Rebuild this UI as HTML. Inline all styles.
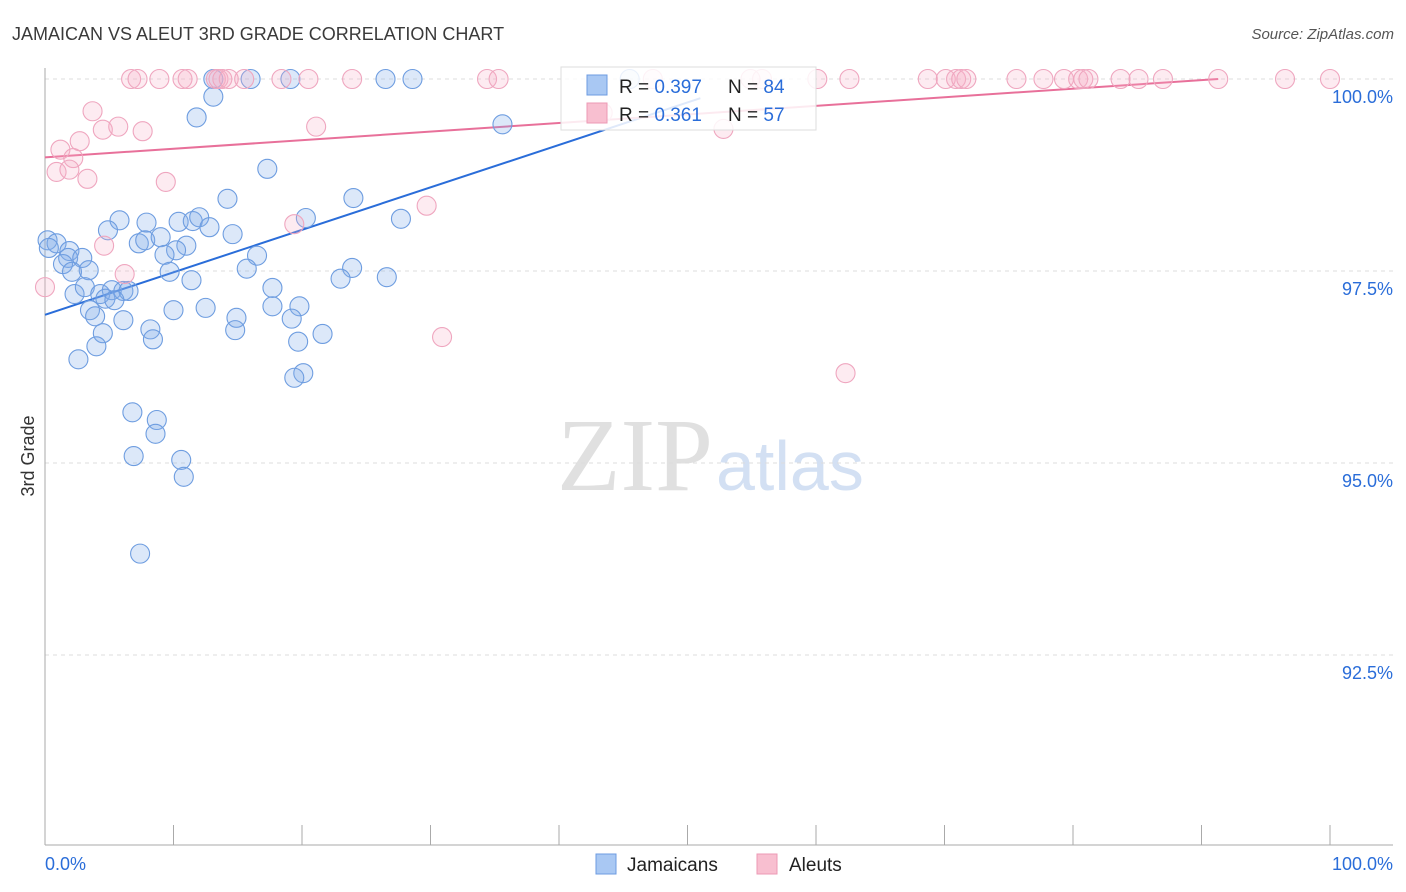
<!DOCTYPE html>
<html><head><meta charset="utf-8"><style>
body{margin:0;background:#fff;font-family:"Liberation Sans",sans-serif;}
svg{display:block}
</style></head><body>
<svg id="chart" width="1406" height="892">
<text x="12" y="40" font-size="18" fill="#3a3a3a">JAMAICAN VS ALEUT 3RD GRADE CORRELATION CHART</text>
<text x="1394" y="39" font-size="15" fill="#555" text-anchor="end" font-style="italic">Source: ZipAtlas.com</text>
<text x="713" y="490" font-size="104" fill="#e0e0e0" text-anchor="end" font-family="Liberation Serif">ZIP</text>
<text x="716" y="490" font-size="70" fill="#d3e0f3">atlas</text>
<g id="grid"></g><g id="axes"></g><g id="lines"></g><g id="pts"></g>
<text transform="translate(34,456) rotate(-90)" font-size="18" fill="#333" text-anchor="middle">3rd Grade</text>
<g>
<rect x="561" y="67" width="255" height="63" fill="#fff" fill-opacity="0.85" stroke="#ddd"/>
<rect x="587" y="75" width="20" height="20" fill="#a9c8f3" stroke="#6d9be0"/>
<rect x="587" y="103" width="20" height="20" fill="#f8bfd0" stroke="#ec9ab5"/>
<text x="619" y="93" font-size="19" fill="#222">R = <tspan fill="#2a6dd9">0.397</tspan>  <tspan x="728">N = </tspan><tspan fill="#2a6dd9">84</tspan></text>
<text x="619" y="121" font-size="19" fill="#222">R = <tspan fill="#2a6dd9">0.361</tspan>  <tspan x="728">N = </tspan><tspan fill="#2a6dd9">57</tspan></text>
</g>
<g>
<rect x="596" y="854" width="20" height="20" fill="#a9c8f3" stroke="#6d9be0"/>
<text x="627" y="871" font-size="19" fill="#222">Jamaicans</text>
<rect x="757" y="854" width="20" height="20" fill="#f8bfd0" stroke="#ec9ab5"/>
<text x="789" y="871" font-size="19" fill="#222">Aleuts</text>
</g>
</svg>
<script>
const blueX=[13.1,16.0,19.1,26.5,28.6,45.5,13.1,11.8,35.6,17.3,14.2,24.0,5.8,7.9,10.4,11.5,12.0,20.3,27.7,4.9,12.8,14.6,0.2,0.9,7.3,7.8,9.0,11.0,10.2,1.9,9.3,16.5,1.8,2.9,1.4,3.4,9.7,15.7,23.9,2.1,23.0,26.6,11.4,2.3,3.1,4.3,5.2,6.1,6.5,4.7,5.4,17.7,3.5,10.0,12.5,17.7,19.8,3.9,6.1,14.9,19.2,8.2,4.5,14.8,21.6,8.4,4.0,19.7,2.6,20.1,19.4,6.8,8.7,8.6,6.9,10.6,10.8,7.4,0.3];
const blueY=[100,100,100,100,100,100,99.77,99.50,99.41,98.83,98.44,98.45,98.16,98.13,98.14,98.15,98.20,98.19,98.18,98.03,98.07,97.98,97.90,97.86,97.86,97.90,97.94,97.83,97.77,97.76,97.71,97.70,97.67,97.67,97.59,97.51,97.49,97.53,97.54,97.49,97.40,97.42,97.38,97.20,97.29,97.20,97.25,97.24,97.24,97.14,97.12,97.28,96.99,96.99,97.02,97.04,97.04,96.91,96.86,96.89,96.88,96.74,96.69,96.73,96.68,96.61,96.52,96.58,96.35,96.17,96.11,95.66,95.56,95.38,95.09,95.04,94.82,93.82,97.80];
const pinkX=[6.7,7.2,8.9,10.7,11.1,13.3,13.5,13.8,14.3,15.5,18.4,20.5,23.9,34.4,35.3,47.3,54.9,55.8,60.1,62.6,68.7,70.1,70.9,71.3,71.7,75.6,77.7,79.3,80.4,80.8,81.2,83.7,85.1,87.0,91.3,96.5,100,3.7,4.5,5.7,7.6,21.1,2.7,1.2,2.2,0.9,1.9,3.3,9.4,29.7,19.4,4.6,6.2,0,30.9,62.3,52.8,43.4];
const pinkY=[100,100,100,100,100,100,100,100,100,100,100,100,100,100,100,100,100,100,100,100,100,100,100,100,100,100,100,100,100,100,100,100,100,100,100,100,100,99.58,99.34,99.38,99.32,99.38,99.19,99.08,98.97,98.79,98.82,98.70,98.66,98.35,98.11,97.83,97.46,97.29,96.64,96.17,99.35,99.56];
const blueLine=[0,96.93,51,99.75];
const pinkLine=[0,98.98,91.3,100];
const yTicks=[100,97.5,95,92.5];
const yTickLabels=["100.0%","97.5%","95.0%","92.5%"];
const xTicks=[0,10,20,30,40,50,60,70,80,90,100];

const NS="http://www.w3.org/2000/svg";
const sx=v=>45+v*12.85;
const sy=v=>79+(100-v)*76.8;
function mk(tag,attrs,parent){const e=document.createElementNS(NS,tag);for(const k in attrs)e.setAttribute(k,attrs[k]);document.getElementById(parent).appendChild(e);return e;}
yTicks.forEach((t,i)=>{
  const g=mk('line',{x1:45,x2:1393,y1:sy(t),y2:sy(t),stroke:'#ddd','stroke-dasharray':'4,4'},'grid');
  
  
  const l=mk('text',{x:1393,y:sy(t)+24,'font-size':18,fill:'#2a6dd9','text-anchor':'end'},'grid');
  l.textContent=yTickLabels[i];
  
  
});
const ax=mk('line',{x1:45,x2:45,y1:68,y2:845,stroke:'#aaa'},'axes');


const bx=mk('line',{x1:45,x2:1393,y1:845,y2:845,stroke:'#aaa'},'axes');


xTicks.forEach(t=>{
  const k=mk('line',{x1:sx(t),x2:sx(t),y1:825,y2:845,stroke:'#aaa'},'axes');
  
  
});
const xl0=mk('text',{x:45,y:870,'font-size':18,fill:'#2a6dd9'},'axes');xl0.textContent='0.0%';


const xl1=mk('text',{x:1393,y:870,'font-size':18,fill:'#2a6dd9','text-anchor':'end'},'axes');xl1.textContent='100.0%';


blueX.forEach((x,i)=>{
  const c=mk('circle',{cx:sx(x),cy:sy(blueY[i]),r:9.5,fill:'rgba(130,172,235,0.28)',stroke:'#6e9de0','stroke-width':1.1},'pts');
  
  
});
pinkX.forEach((x,i)=>{
  const c=mk('circle',{cx:sx(x),cy:sy(pinkY[i]),r:9.5,fill:'rgba(248,175,200,0.25)',stroke:'#efa6bf','stroke-width':1.1},'pts');
  
  
});
const bl=mk('line',{x1:sx(blueLine[0]),y1:sy(blueLine[1]),x2:sx(blueLine[2]),y2:sy(blueLine[3]),stroke:'#2a6dd9','stroke-width':2},'lines');


const pl=mk('line',{x1:sx(pinkLine[0]),y1:sy(pinkLine[1]),x2:sx(pinkLine[2]),y2:sy(pinkLine[3]),stroke:'#e8709a','stroke-width':2},'lines');


</script>
</body></html>
